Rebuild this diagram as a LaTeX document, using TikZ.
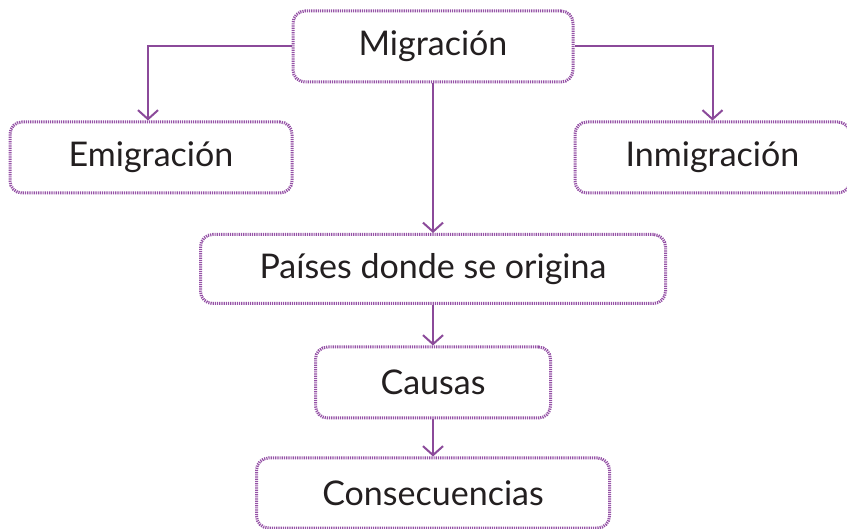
\documentclass[tikz,border=0pt]{standalone}
\usepackage{fontspec}
\setmainfont{Lato}
\usetikzlibrary{arrows.meta}
\definecolor{boxline}{HTML}{9450A5}
\definecolor{conn}{HTML}{8B4A9A}
\definecolor{txt}{HTML}{231F20}
\begin{document}
\begin{tikzpicture}[x=1pt,y=-1pt,
  box/.style={draw=boxline, line width=3pt, dash pattern=on 1.2pt off 1pt,
    rounded corners=12pt, fill=white, text=txt, inner sep=0pt,
    font=\fontsize{34}{40}\selectfont},
  link/.style={draw=conn, line width=2pt,
    -{Straight Barb[length=9pt,width=20pt,line width=2pt]}}]
\useasboundingbox (0,0) rectangle (847,529);
\node[box, minimum width=280pt, minimum height=71pt] (mig) at (433,46.5) {Migración};
\node[box, minimum width=282pt, minimum height=71pt] (emi) at (151,157.5) {Emigración};
\node[box, minimum width=275pt, minimum height=71pt] (inm) at (712.5,157.5) {Inmigración};
\node[box, minimum width=465pt, minimum height=69pt] (pai) at (433,269) {Países donde se origina};
\node[box, minimum width=235pt, minimum height=71pt] (cau) at (433,382.5) {Causas};
\node[box, minimum width=353pt, minimum height=70pt] (con) at (433,493) {Consecuencias};
\draw[link] (mig.west) -| ([xshift=-3pt]emi.north);
\draw[link] (mig.east) -| (inm.north);
\draw[link] (mig.south) -- (pai.north);
\draw[link] (pai.south) -- (cau.north);
\draw[link] (cau.south) -- (con.north);
\end{tikzpicture}
\end{document}
